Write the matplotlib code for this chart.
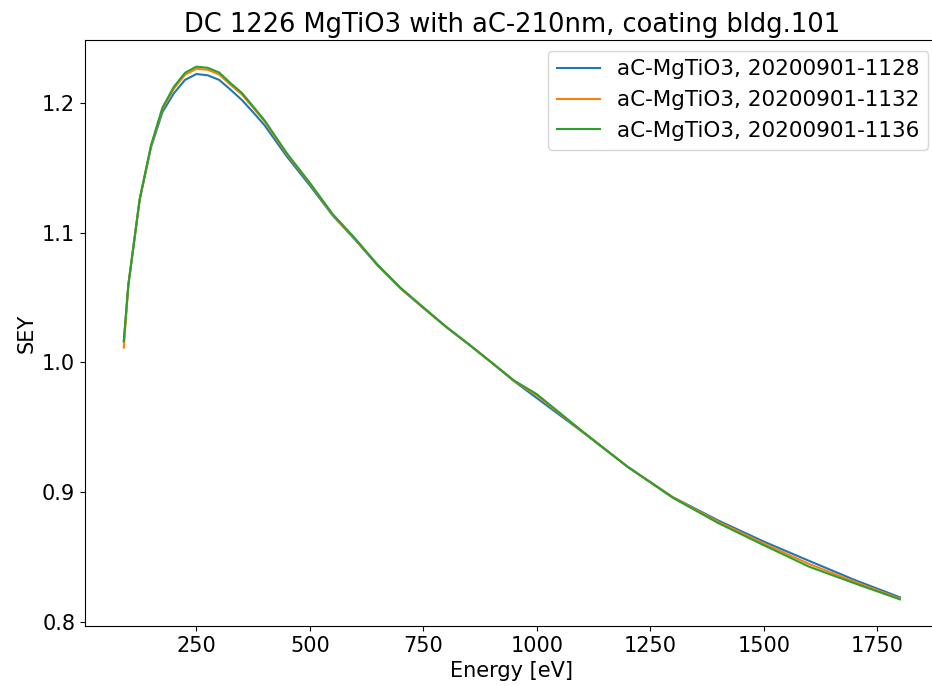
import matplotlib
matplotlib.use("Agg")
import matplotlib.pyplot as plt

energy = [90, 100, 125, 150, 175, 200, 225, 250, 275, 300, 325, 350, 375, 400,
          450, 500, 550, 600, 650, 700, 750, 800, 850, 900, 950, 1000,
          1100, 1200, 1300, 1400, 1500, 1600, 1700, 1800]

sey_1128 = [1.0160, 1.0595, 1.1255, 1.1660, 1.1930, 1.2075, 1.2180, 1.2225, 1.2215, 1.2180,
            1.2105, 1.2025, 1.1930, 1.1830, 1.1585, 1.1365, 1.1135, 1.0945, 1.0745, 1.0570,
            1.0420, 1.0275, 1.0140, 1.0000, 0.9855, 0.9725,
            0.9465, 0.9195, 0.8960, 0.8780, 0.8618, 0.8469, 0.8322, 0.8188]

sey_1132 = [1.0114, 1.0598, 1.1258, 1.1668, 1.1955, 1.2110, 1.2220, 1.2265, 1.2258, 1.2222,
            1.2142, 1.2068, 1.1965, 1.1860, 1.1602, 1.1380, 1.1140, 1.0950, 1.0748, 1.0572,
            1.0422, 1.0275, 1.0140, 1.0000, 0.9858, 0.9745,
            0.9468, 0.9195, 0.8958, 0.8770, 0.8603, 0.8445, 0.8308, 0.8178]

sey_1136 = [1.0166, 1.0600, 1.1260, 1.1675, 1.1965, 1.2125, 1.2235, 1.2282, 1.2273, 1.2237,
            1.2155, 1.2080, 1.1975, 1.1868, 1.1610, 1.1385, 1.1145, 1.0955, 1.0750, 1.0575,
            1.0425, 1.0275, 1.0140, 1.0000, 0.9860, 0.9755,
            0.9470, 0.9195, 0.8955, 0.8760, 0.8590, 0.8424, 0.8296, 0.8172]

labels = ["aC-MgTiO3, 20200901-1128", "aC-MgTiO3, 20200901-1132", "aC-MgTiO3, 20200901-1136"]
title = "DC 1226 MgTiO3 with aC-210nm, coating bldg.101"

plt.rcParams['font.size'] = 16
fig = plt.figure(figsize=(9.32, 6.86), dpi=100)
ax = fig.add_axes([85/932, 60/686, (938.7-85)/932, 586/686])
for ys, lab in zip([sey_1128, sey_1132, sey_1136], labels):
    ax.plot(energy, ys, label=lab, linewidth=1.5)
ax.set_xlabel("Energy [eV]", fontsize=15)
ax.set_ylabel("SEY", fontsize=15)
ax.set_title(title, fontsize=18.5)
ax.set_xticks([250, 500, 750, 1000, 1250, 1500, 1750])
ax.set_yticks([0.8, 0.9, 1.0, 1.1, 1.2])
ax.tick_params(labelsize=15)
ax.legend(loc="upper right", fontsize=15.5)
fig.savefig("out.png", dpi=100)
